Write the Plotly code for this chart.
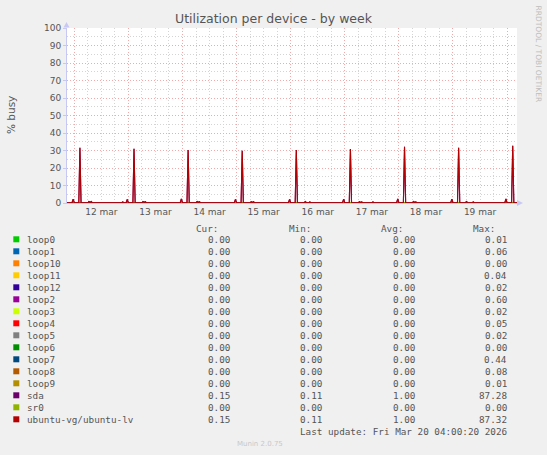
"""Munin style weekly disk utilization chart, redrawn with plotly."""

import plotly.graph_objects as go

# time samples (30 min consolidation) and % busy for ubuntu-vg/ubuntu-lv
lv_times = [
    "2026-03-11 20:30", "2026-03-11 23:00", "2026-03-11 23:30",
    "2026-03-12 00:00", "2026-03-12 02:00", "2026-03-12 02:30", "2026-03-12 03:00",
    "2026-03-12 06:00", "2026-03-12 06:30", "2026-03-12 07:00", "2026-03-12 07:30",
    "2026-03-12 08:00", "2026-03-12 21:00", "2026-03-12 21:30", "2026-03-12 22:00",
    "2026-03-12 23:00", "2026-03-12 23:30",
    "2026-03-13 00:00", "2026-03-13 02:00", "2026-03-13 02:30", "2026-03-13 03:00",
    "2026-03-13 06:00", "2026-03-13 06:30", "2026-03-13 07:00", "2026-03-13 07:30",
    "2026-03-13 08:00", "2026-03-13 23:00", "2026-03-13 23:30",
    "2026-03-14 00:00", "2026-03-14 02:00", "2026-03-14 02:30", "2026-03-14 03:00",
    "2026-03-14 06:00", "2026-03-14 06:30", "2026-03-14 07:00", "2026-03-14 07:30",
    "2026-03-14 08:00", "2026-03-14 23:00", "2026-03-14 23:30",
    "2026-03-15 00:00", "2026-03-15 02:00", "2026-03-15 02:30", "2026-03-15 03:00",
    "2026-03-15 06:00", "2026-03-15 06:30", "2026-03-15 07:00", "2026-03-15 07:30",
    "2026-03-15 08:00", "2026-03-15 23:00", "2026-03-15 23:30",
    "2026-03-16 00:00", "2026-03-16 02:00", "2026-03-16 02:30", "2026-03-16 03:00",
    "2026-03-16 06:00", "2026-03-16 06:30", "2026-03-16 07:00", "2026-03-16 08:00",
    "2026-03-16 08:30", "2026-03-16 09:00", "2026-03-16 23:00", "2026-03-16 23:30",
    "2026-03-17 00:00", "2026-03-17 02:00", "2026-03-17 02:30", "2026-03-17 03:00",
    "2026-03-17 06:00", "2026-03-17 06:30", "2026-03-17 07:00", "2026-03-17 07:30",
    "2026-03-17 08:00", "2026-03-17 12:00", "2026-03-17 12:30", "2026-03-17 13:00",
    "2026-03-17 23:00", "2026-03-17 23:30",
    "2026-03-18 00:00", "2026-03-18 02:00", "2026-03-18 02:30", "2026-03-18 03:00",
    "2026-03-18 06:00", "2026-03-18 06:30", "2026-03-18 07:00", "2026-03-18 07:30",
    "2026-03-18 08:00", "2026-03-18 12:00", "2026-03-18 12:30", "2026-03-18 13:00",
    "2026-03-18 16:30", "2026-03-18 17:00", "2026-03-18 17:30",
    "2026-03-18 23:00", "2026-03-18 23:30",
    "2026-03-19 00:00", "2026-03-19 02:00", "2026-03-19 02:30", "2026-03-19 03:00",
    "2026-03-19 05:30", "2026-03-19 06:00", "2026-03-19 06:30", "2026-03-19 08:30",
    "2026-03-19 09:00", "2026-03-19 09:30", "2026-03-19 23:00", "2026-03-19 23:30",
    "2026-03-20 00:00", "2026-03-20 02:00", "2026-03-20 02:30", "2026-03-20 03:00",
    "2026-03-20 04:30",
]
lv_values = [
    0.15, 0.15, 2.2,
    0.2, 0.15, 31.6, 0.2,
    0.15, 0.9, 0.3, 0.8,
    0.15, 0.15, 0.6, 0.15,
    0.15, 2.0,
    0.2, 0.15, 31.0, 0.2,
    0.15, 0.9, 0.3, 0.7,
    0.15, 0.15, 2.3,
    0.2, 0.15, 30.3, 0.2,
    0.15, 0.8, 0.3, 0.7,
    0.15, 0.15, 2.1,
    0.2, 0.15, 29.9, 0.2,
    0.15, 0.7, 0.3, 0.7,
    0.15, 0.15, 2.0,
    0.2, 0.15, 30.3, 0.2,
    0.15, 0.8, 0.2, 0.15,
    0.6, 0.15, 0.15, 2.2,
    0.2, 0.15, 30.9, 0.2,
    0.15, 0.7, 0.3, 0.6,
    0.15, 0.15, 0.6, 0.15,
    0.15, 2.3,
    0.2, 0.15, 32.2, 0.2,
    0.15, 0.8, 0.3, 0.6,
    0.15, 0.15, 0.5, 0.15,
    0.15, 0.5, 0.15,
    0.15, 2.2,
    0.2, 0.15, 31.6, 0.2,
    0.15, 0.8, 0.15, 0.15,
    0.6, 0.15, 0.15, 2.3,
    0.2, 0.15, 32.7, 0.2,
    0.15,
]
# sda follows the logical volume almost exactly
sda_values = lv_values

x_start = "2026-03-11 20:46"
x_end = "2026-03-20 04:24"

day_ticks = [
    "2026-03-12 12:00", "2026-03-13 12:00", "2026-03-14 12:00", "2026-03-15 12:00",
    "2026-03-16 12:00", "2026-03-17 12:00", "2026-03-18 12:00", "2026-03-19 12:00",
]
day_labels = ["12 mar", "13 mar", "14 mar", "15 mar", "16 mar", "17 mar", "18 mar", "19 mar"]

devices = [
    "loop0", "loop1", "loop10", "loop11", "loop12", "loop2", "loop3", "loop4",
    "loop5", "loop6", "loop7", "loop8", "loop9", "sda", "sr0", "ubuntu-vg/ubuntu-lv",
]
colors = [
    "#00cc00", "#0066b3", "#ff8000", "#ffcc00", "#330099", "#990099", "#ccff00", "#ff0000",
    "#808080", "#008f00", "#00487d", "#b35a00", "#b38f00", "#6b006b", "#8fb300", "#b30000",
]
cur = [0.00, 0.00, 0.00, 0.00, 0.00, 0.00, 0.00, 0.00, 0.00, 0.00, 0.00, 0.00, 0.00, 0.15, 0.00, 0.15]
mins = [0.00, 0.00, 0.00, 0.00, 0.00, 0.00, 0.00, 0.00, 0.00, 0.00, 0.00, 0.00, 0.00, 0.11, 0.00, 0.11]
avgs = [0.00, 0.00, 0.00, 0.00, 0.00, 0.00, 0.00, 0.00, 0.00, 0.00, 0.00, 0.00, 0.00, 1.00, 0.00, 1.00]
maxs = [0.01, 0.06, 0.00, 0.04, 0.02, 0.60, 0.02, 0.05, 0.02, 0.00, 0.44, 0.08, 0.01, 87.28, 0.00, 87.32]

W, H = 547, 455
PL, PR, PT, PB = 67, 517, 28, 203  # plot box in pixels

TEXT = "#555555"
SANS = "DejaVu Sans"
MONO = "DejaVu Sans Mono"


def px_x(p):
    return (p - PL) / (PR - PL)


def px_y(p):
    return (PB - p) / (PB - PT)


fig = go.Figure()

# holder trace so the overlaid day-grid axis gets drawn
fig.add_trace(
    go.Scatter(x=[x_start, x_end], y=[0, 0], mode="lines", xaxis="x2",
               line=dict(width=0), hoverinfo="skip", showlegend=False)
)

# loop devices and sr0 sit flat on zero
for name, col in zip(devices, colors):
    if name in ("sda", "ubuntu-vg/ubuntu-lv"):
        continue
    fig.add_trace(
        go.Scatter(
            x=[lv_times[0], lv_times[-1]], y=[0, 0], mode="lines",
            line=dict(color=col, width=1), hoverinfo="skip", name=name,
        )
    )

fig.add_trace(
    go.Scatter(x=lv_times, y=sda_values, mode="lines",
               line=dict(color=colors[13], width=1.1), name="sda")
)
fig.add_trace(
    go.Scatter(x=lv_times, y=lv_values, mode="lines",
               line=dict(color=colors[15], width=1.1), name="ubuntu-vg/ubuntu-lv")
)

red_grid = "#f3a9a9"
grey_grid = "#d4d4d4"
axis_col = "#c8c8f5"

fig.update_layout(
    width=W, height=H,
    margin=dict(l=PL, r=W - PR, t=PT, b=H - PB),
    paper_bgcolor="#f0f0f0", plot_bgcolor="white",
    showlegend=False,
    title=dict(text="Utilization per device - by week", x=0.5, xref="container",
               y=1 - 19 / H, yref="container", yanchor="middle", xanchor="center",
               font=dict(family=SANS, size=12.5, color=TEXT)),
    xaxis=dict(
        type="date", range=[x_start, x_end],
        tickmode="array", tickvals=day_ticks, ticktext=day_labels,
        tickfont=dict(family=SANS, size=9, color=TEXT),
        showgrid=False, zeroline=False, ticks="",
        showline=True, linecolor=axis_col, layer="below traces",
        minor=dict(tickmode="linear", dtick=6 * 3600 * 1000, tick0="2026-03-12",
                   showgrid=True, gridcolor=grey_grid, griddash="1px,2px",
                   gridwidth=1, ticks=""),
    ),
    xaxis2=dict(
        type="date", overlaying="x", matches="x", range=[x_start, x_end],
        tickmode="linear", dtick=86400000, tick0="2026-03-12",
        showticklabels=False, ticks="",
        showgrid=True, gridcolor=red_grid, griddash="1px,2px", gridwidth=1,
        zeroline=False, showline=False,
    ),
    yaxis=dict(
        range=[0, 100], tickmode="linear", dtick=10, tick0=0,
        tickfont=dict(family=SANS, size=9, color=TEXT),
        showgrid=True, gridcolor=red_grid, griddash="1px,2px", gridwidth=1,
        zeroline=False, ticks="outside", ticklen=3, tickcolor=axis_col,
        showline=True, linecolor=axis_col, layer="below traces",
        minor=dict(dtick=5, showgrid=True, gridcolor=grey_grid,
                   griddash="1px,2px", ticks=""),
    ),
)

ann = []
ann.append(dict(x=px_x(11), y=px_y(115), xref="paper", yref="paper", text="% busy",
                textangle=-90, showarrow=False, xanchor="center", yanchor="middle",
                font=dict(family=SANS, size=10.5, color=TEXT)))
ann.append(dict(x=px_x(538), y=px_y(53.5), xref="paper", yref="paper",
                text="RRDTOOL / TOBI OETIKER", textangle=90, showarrow=False,
                xanchor="center", yanchor="middle",
                font=dict(family=SANS, size=7.5, color="#bdbdbd")))

shapes = []
# axis arrow heads
up = (f"M {px_x(63.5)},{px_y(PT - 0.5)} L {px_x(69.5)},{px_y(PT - 0.5)} "
      f"L {px_x(66.5)},{px_y(PT - 6)} Z")
right = (f"M {px_x(PR)},{px_y(PB - 3)} L {px_x(PR)},{px_y(PB + 3)} "
         f"L {px_x(PR + 6)},{px_y(PB)} Z")
for path in (up, right):
    shapes.append(dict(type="path", xref="paper", yref="paper", path=path,
                       fillcolor=axis_col, line=dict(width=0)))

mono = dict(family=MONO, size=9.3, color=TEXT)
header_y = 228.3
for label, xr in [("Cur:", 220), ("Min:", 312.5), ("Avg:", 404.5), ("Max:", 497)]:
    ann.append(dict(x=px_x(xr), y=px_y(header_y), xref="paper", yref="paper",
                    text=label, xanchor="right", yanchor="middle", showarrow=False,
                    font=mono))

row0, row_step = 239.3, 12.0
for i, name in enumerate(devices):
    yy = row0 + i * row_step
    shapes.append(dict(type="rect", xref="paper", yref="paper",
                       x0=px_x(13.3), x1=px_x(19.3), y0=px_y(yy - 3), y1=px_y(yy + 3),
                       fillcolor=colors[i], line=dict(width=0)))
    ann.append(dict(x=px_x(25), y=px_y(yy), xref="paper", yref="paper", text=name,
                    xanchor="left", yanchor="middle", showarrow=False, font=mono))
    for vals, xr in [(cur, 231.7), (mins, 324), (avgs, 416.7), (maxs, 509)]:
        ann.append(dict(x=px_x(xr), y=px_y(yy), xref="paper", yref="paper",
                        text=f"{vals[i]:.2f}", xanchor="right", yanchor="middle",
                        showarrow=False, font=mono))

ann.append(dict(x=px_x(509), y=px_y(431.7), xref="paper", yref="paper",
                text="Last update: Fri Mar 20 04:00:20 2026", xanchor="right",
                yanchor="middle", showarrow=False, font=mono))
ann.append(dict(x=px_x(260), y=px_y(444.3), xref="paper", yref="paper",
                text="Munin 2.0.75", xanchor="center", yanchor="middle",
                showarrow=False, font=dict(family=SANS, size=7, color="#c8c8c8")))

fig.update_layout(annotations=ann, shapes=shapes)

# drop the default page margin so the figure sits at the window origin
fig.write_html("out.html", config={"displayModeBar": False},
               post_script="document.body.style.margin = '0';")
